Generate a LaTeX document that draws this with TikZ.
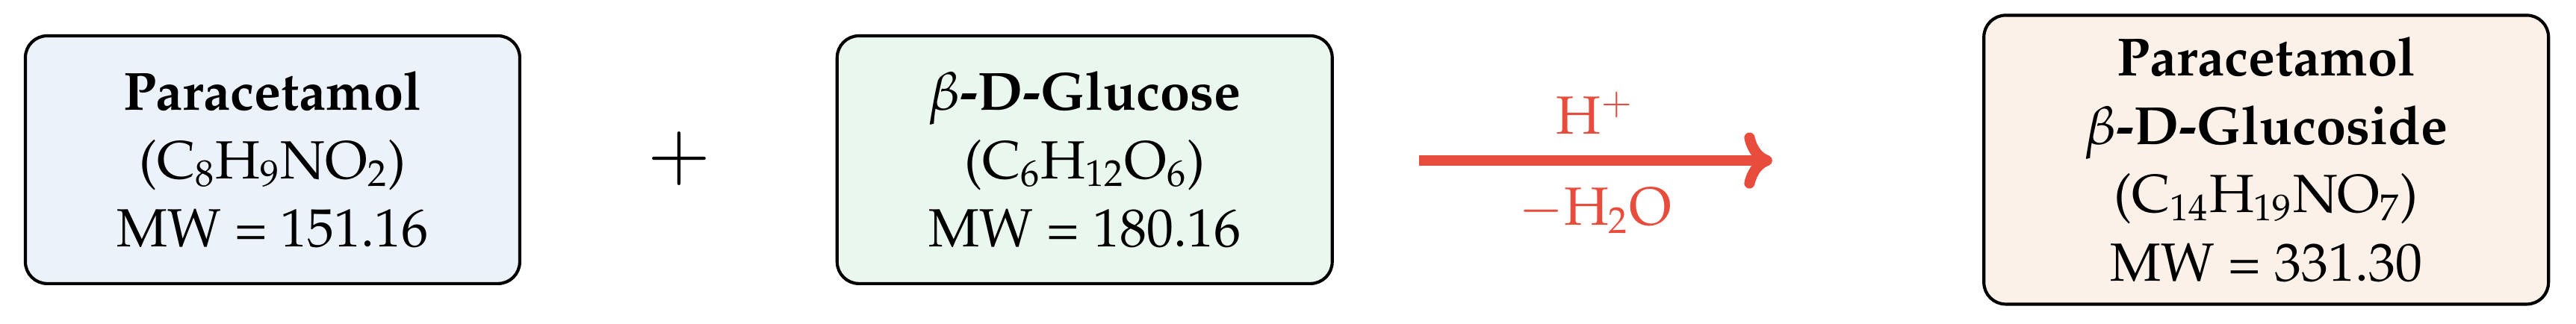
\documentclass[tikz,border=0pt]{standalone}
\usepackage[T1]{fontenc}
\usepackage{mathpazo}
\usepackage{xcolor}
\usetikzlibrary{arrows.meta, positioning}

\definecolor{paraBlue}{HTML}{EBF2F9}
\definecolor{glucGreen}{HTML}{E9F7EF}
\definecolor{prodPeach}{HTML}{FCF1E9}
\definecolor{reacRed}{HTML}{E74C3C}

\begin{document}
\begin{tikzpicture}
		\tikzstyle{Mol} = [rectangle, rounded corners=7pt, minimum height=2.8cm, text centered, align=center, draw=black, line width=1pt, font=\LARGE]
		\tikzstyle{arrow} = [line width=3.4pt, -{Computer Modern Rightarrow[length=9pt, width=18pt, round]}, draw=reacRed]
		\tikzstyle{Cond} = [text=reacRed, font=\LARGE, anchor=base]
		
		\useasboundingbox (0,0) rectangle (29.10,3.661);
		
		\node (para) [Mol, minimum width=5.585cm, fill=paraBlue] at (3.079,1.856) {\textbf{Paracetamol}\\(C$_8$H$_9$NO$_2$)\\MW = 151.16};
		\node (plus) [font=\Huge] at (7.677,1.864) {$+$};
		\node (gluc) [Mol, minimum width=5.593cm, fill=glucGreen] at (12.253,1.856) {\textbf{$\beta$-D-Glucose}\\(C$_6$H$_{12}$O$_6$)\\MW = 180.16};
		
		\coordinate (arrS) at (16.03,1.847);
		\coordinate (arrE) at (20.02,1.847);
		\draw [arrow] (arrS) -- (arrE);
		\node (acid) [Cond] at (18.02,2.143) {H$^+$};
		\node (water) [Cond] at (18.02,1.114) {$-$H$_2$O};
		
		\node (prod) [Mol, minimum width=6.378cm, minimum height=3.265cm, fill=prodPeach] at (25.60,1.856) {\textbf{Paracetamol}\\\textbf{$\beta$-D-Glucoside}\\(C$_{14}$H$_{19}$NO$_7$)\\MW = 331.30};
\end{tikzpicture}
\end{document}
